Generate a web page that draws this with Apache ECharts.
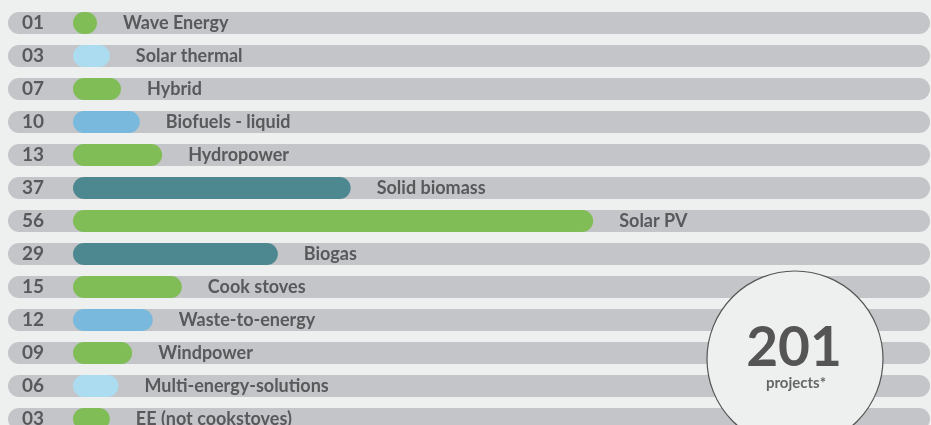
<!DOCTYPE html>
<html>
<head>
<meta charset="utf-8">
<script src="https://cdn.jsdelivr.net/npm/echarts@6/dist/echarts.min.js"></script>
<style>
  html, body { margin: 0; padding: 0; background: #eef0ef; overflow: hidden; }
  /* taller than the window: the last row is cut off like in the source */
  #chart { width: 931px; height: 440px; }
</style>
</head>
<body>
<div id="chart"></div>
<script>
// project counts per technology (shown as the left-hand numbers)
const categories = [
  'Wave Energy', 'Solar thermal', 'Hybrid', 'Biofuels - liquid', 'Hydropower',
  'Solid biomass', 'Solar PV', 'Biogas', 'Cook stoves', 'Waste-to-energy',
  'Windpower', 'Multi-energy-solutions', 'EE (not cookstoves)'
];
const counts = [1, 3, 7, 10, 13, 37, 56, 29, 15, 12, 9, 6, 3];
// drawn bar length, % of the track (the infographic is not to scale)
const barLength = [2.8, 4.3, 5.6, 7.8, 10.4, 32.4, 60.7, 23.9, 12.7, 9.3, 6.9, 5.3, 4.3];
const barGroup = ['green', 'light', 'green', 'blue', 'green', 'teal', 'green',
  'teal', 'green', 'blue', 'green', 'light', 'green'];
const totalProjects = 201;

const TRACK_MAX = 100;
const palette = { green: '#80bd57', light: '#acdcf0', blue: '#78b9dd', teal: '#4d8890' };
const textColor = '#58595b';
const FONT = 'Lato';

const chart = echarts.init(document.getElementById('chart'));

const pad2 = n => (n < 10 ? '0' : '') + n;

const option = {
  backgroundColor: '#eef0ef',
  animation: false,
  grid: [
    { left: 8, right: 1, top: 6.5, height: 429 },
    { left: 73, right: 1, top: 6.5, height: 429 }
  ],
  xAxis: [
    { gridIndex: 0, type: 'value', min: 0, max: TRACK_MAX, show: false },
    { gridIndex: 1, type: 'value', min: 0, max: TRACK_MAX, show: false }
  ],
  yAxis: [
    {
      gridIndex: 0, type: 'category', inverse: true, data: categories,
      axisLine: { show: false }, axisTick: { show: false }, splitLine: { show: false },
      axisLabel: {
        inside: true, margin: 14, color: textColor,
        fontFamily: FONT, fontWeight: 'bold', fontSize: 19,
        formatter: (v, i) => pad2(counts[i])
      },
      z: 5
    },
    {
      gridIndex: 1, type: 'category', inverse: true, data: categories,
      show: false
    }
  ],
  series: [
    {
      name: 'track', type: 'bar', xAxisIndex: 0, yAxisIndex: 0,
      data: categories.map(() => TRACK_MAX),
      barWidth: 22, silent: true, z: 1,
      itemStyle: { color: '#c3c5c8', borderRadius: 11 }
    },
    {
      name: 'projects', type: 'bar', xAxisIndex: 1, yAxisIndex: 1,
      data: barLength.map((v, i) => ({ value: v, itemStyle: { color: palette[barGroup[i]] } })),
      barWidth: 22, z: 3,
      itemStyle: { borderRadius: 11 },
      label: {
        show: true, position: 'right', distance: 26, formatter: '{b}',
        color: textColor, fontFamily: FONT, fontWeight: 'bold', fontSize: 18
      }
    }
  ],
  graphic: [
    {
      type: 'circle', z: 100,
      shape: { cx: 795, cy: 359, r: 88 },
      style: { fill: '#eef0ef', stroke: '#555', lineWidth: 1.2 }
    },
    {
      type: 'text', z: 101, x: 794, y: 348,
      style: {
        text: String(totalProjects), fill: '#555', font: 'bold 55px Lato',
        align: 'center', verticalAlign: 'middle'
      }
    },
    {
      type: 'text', z: 101, x: 796, y: 383,
      style: {
        text: 'projects*', fill: '#666', font: 'bold 15px Lato',
        align: 'center', verticalAlign: 'middle'
      }
    }
  ]
};

chart.setOption(option);
</script>
</body>
</html>
